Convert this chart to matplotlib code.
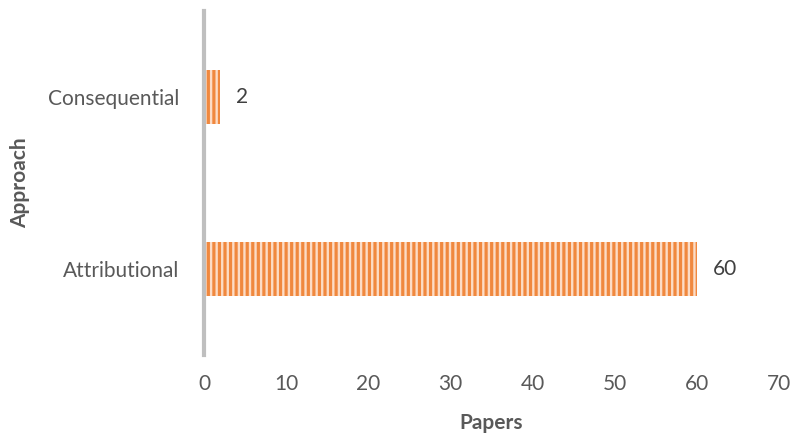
import matplotlib.pyplot as plt

approaches = ["Attributional", "Consequential"]
papers = [60, 2]

plt.rcParams['font.family'] = ['Lato', 'DejaVu Sans']
plt.rcParams['hatch.linewidth'] = 2.3
plt.rcParams['hatch.color'] = '#ED7D31'

fig = plt.figure(figsize=(7.96, 4.34), dpi=100)
ax = fig.add_axes([0.2563, 0.182, 0.7224, 0.7926])

bars = ax.barh(approaches, papers, height=0.31, color='#FCDCC6',
               edgecolor='#F0883E', linewidth=0, hatch='|||')

for bar, v in zip(bars, papers):
    ax.text(bar.get_width() + 1.9, bar.get_y() + bar.get_height() / 2, str(v),
            va='center', ha='left', fontsize=15, color='#404040')

ax.set_xlim(0, 70)
ax.set_ylim(-0.5, 1.5)
ax.set_xticks(range(0, 71, 10))
for s in ['top', 'right', 'bottom']:
    ax.spines[s].set_visible(False)
ax.spines['left'].set_color('#BFBFBF')
ax.spines['left'].set_linewidth(3)
ax.tick_params(axis='both', length=0, labelsize=15, labelcolor='#595959')
ax.tick_params(axis='x', pad=14)
ax.tick_params(axis='y', pad=18)

ax.set_xlabel("Papers", fontsize=15, fontweight='bold', color='#595959')
ax.xaxis.set_label_coords(0.5, -0.17)
ax.set_ylabel("Approach", fontsize=15, fontweight='bold', color='#595959')
ax.yaxis.set_label_coords(-0.303, 0.5)

fig.savefig("out.png", dpi=100)
